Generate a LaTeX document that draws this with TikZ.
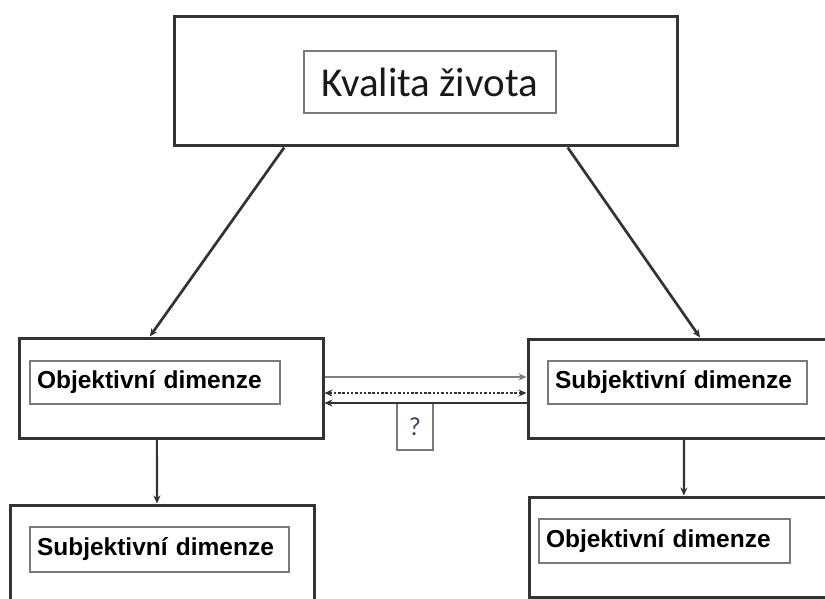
\documentclass[tikz,border=0pt]{standalone}
\usepackage{fontspec}
\setmainfont{Carlito}
\newfontfamily\lsans{Liberation Sans}
\usetikzlibrary{calc,arrows.meta}
\definecolor{frame}{HTML}{333333}
\definecolor{inner}{HTML}{7A7A7A}
\definecolor{qcol}{HTML}{3A4560}
\tikzset{
  outerbox/.style={draw=frame, line width=3pt, inner sep=0pt},
  innerbox/.style={draw=inner, line width=1.1pt, inner sep=0pt, font=\lsans\bfseries\fontsize{24.5}{26}\selectfont, text=black},
  conn/.style={draw=frame, line width=2.7pt, ->},
  hline/.style={line width=2.2pt, draw=frame}
}
\begin{document}
\begin{tikzpicture}[x=1pt,y=-1pt, >={Stealth[length=8pt,width=7pt]}]
\clip (0,0) rectangle (825,599);
\useasboundingbox (0,0) rectangle (825,599);
\fill[white] (0,0) rectangle (825,599);

% outer boxes
\node[outerbox, minimum width=503pt, minimum height=129pt] (top) at (425.5,81.5) {};
\node[outerbox, minimum width=304pt, minimum height=100pt] (lm) at (171,388) {};
\node[outerbox, minimum width=312pt, minimum height=99pt] (rm) at (684,388.5) {};
\node[outerbox, minimum width=304pt, minimum height=115pt] (bl) at (162,562.5) {};
\node[outerbox, minimum width=311pt, minimum height=100pt] (br) at (684.5,547) {};

% inner boxes
\node[draw=inner, line width=1.1pt, inner sep=0pt, minimum width=252pt, minimum height=62pt,
      font=\fontsize{41}{44}\selectfont, text=black!90] (kz) at (430,82) {Kvalita života};
\node[innerbox, text width=236pt, inner xsep=7pt, minimum height=43pt, align=left] (lmt) at (155,382.5) {Objektivní dimenze};
\node[innerbox, text width=245pt, inner xsep=7pt, minimum height=43pt, align=left] (rmt) at (677.5,382.5) {Subjektivní dimenze};
\node[innerbox, text width=245pt, inner xsep=7pt, minimum height=45pt, align=left] (blt) at (159.5,549.5) {Subjektivní dimenze};
\node[innerbox, text width=237pt, inner xsep=7pt, minimum height=44pt, align=left] (brt) at (664.5,541) {Objektivní dimenze};

% question box
\node[draw=inner, line width=1.1pt, inner sep=0pt, minimum width=36pt, minimum height=47pt,
      font=\fontsize{26}{28}\selectfont, text=qcol] (q) at (415,426.5) {?};

% diagonal connectors
\draw[conn] ($(top.south west)!0.2207!(top.south east)$) -- ($(lm.north west)!0.431!(lm.north east)$);
\draw[conn] ($(top.south west)!0.781!(top.south east)$) -- ($(rm.north west)!0.551!(rm.north east)$);

% vertical connectors
\draw[conn, line width=2.2pt] ($(lm.south west)!0.454!(lm.south east)$) -- ($(bl.north west)!0.4836!(bl.north east)$);
\draw[conn, line width=2.2pt] ($(rm.south west)!0.5!(rm.south east)$) -- ($(br.north west)!0.498!(br.north east)$);

% horizontal connectors
\coordinate (h1) at ($(lm.east)+(0,-11)$);
\coordinate (h2) at ($(lm.east)+(0,5)$);
\coordinate (h3) at ($(lm.east)+(0,15)$);
\draw[draw=black!50, line width=1.4pt, ->] (h1) -- (h1 -| rm.west);
\draw[hline, dash pattern=on 2.5pt off 1.8pt, <->] (h2) -- (h2 -| rm.west);
\draw[hline, <-] (h3) -- (h3 -| rm.west);
\end{tikzpicture}
\end{document}
